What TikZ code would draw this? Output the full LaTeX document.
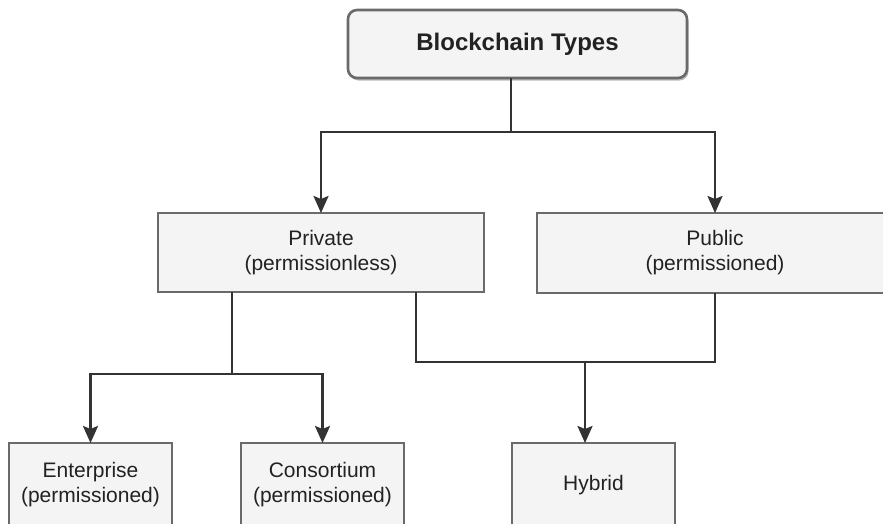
\documentclass[tikz,border=0pt]{standalone}
\usepackage{fontspec}
\setmainfont{Liberation Sans}
\usetikzlibrary{arrows.meta,shadows}
\definecolor{boxfill}{HTML}{F4F4F4}
\definecolor{boxline}{HTML}{6A6A6A}
\definecolor{wire}{HTML}{333333}
\definecolor{ink}{HTML}{222222}
\tikzset{
  typebox/.style={draw=boxline, line width=2.6pt, fill=boxfill, text=ink,
    align=center, inner sep=0pt, outer sep=0pt, font=\fontsize{21}{25}\selectfont},
  rootbox/.style={typebox, rounded corners=9pt,
    font=\fontsize{24}{28}\selectfont\bfseries,
    drop shadow={shadow xshift=1.5pt, shadow yshift=-2.5pt, fill=black!45, opacity=0.6}},
  borderline/.style={draw=boxline, line width=2.6pt},
  wirestyle/.style={draw=wire, line width=2.4pt},
  arrowline/.style={wirestyle, -{Stealth[length=17pt, width=15pt, inset=3pt]}},
}
\begin{document}
\begin{tikzpicture}[x=1pt, y=-1pt]
  \useasboundingbox (0,0) rectangle (883,523);
  \clip (0,0) rectangle (883,523);

  % boxes
  \node[rootbox, minimum width=339pt, minimum height=68pt] (root) at (517.5,44) {Blockchain Types};
  \node[typebox, minimum width=326pt, minimum height=79pt] (priv) at (321,252.5) {Private\\(permissionless)};
  % the public box runs on past the right margin, so its border is left open there
  \node[typebox, draw=none, fill=none, minimum width=356pt, minimum height=80pt] (pub) at (715,253) {};
  \fill[boxfill] (pub.north west) rectangle ([xshift=60pt]pub.south east);
  \draw[borderline] ([xshift=60pt]pub.north east) -- (pub.north west) -- (pub.south west) -- ([xshift=60pt]pub.south east);
  \node[typebox, draw=none, fill=none] (publabel) at (pub.center) {Public\\(permissioned)};
  \node[typebox, minimum width=163pt, minimum height=84pt] (ent) at (90.5,485) {Enterprise\\(permissioned)};
  \node[typebox, minimum width=163pt, minimum height=84pt] (cons) at (322.5,485) {Consortium\\(permissioned)};
  \node[typebox, minimum width=163pt, minimum height=84pt] (hyb) at (593.5,485) {Hybrid};

  % junction points
  \coordinate (jtop) at (511,132);
  \coordinate (jpriv) at (232,374);
  \coordinate (jhyb) at (416,362);
  \coordinate (jdrop) at (585,362);

  % root to the two main types
  \draw[wirestyle] (root.south -| jtop) -- (jtop);
  \draw[arrowline] (jtop) -| (priv.north);
  \draw[arrowline] (jtop) -| (pub.north);

  % private splits into enterprise and consortium
  \draw[wirestyle] (priv.south -| jpriv) -- (jpriv);
  \draw[arrowline] (jpriv) -| (ent.north);
  \draw[arrowline] (jpriv) -| (cons.north);

  % private and public merge into hybrid
  \draw[wirestyle] (priv.south -| jhyb) -- (jhyb) -| (pub.south);
  \draw[arrowline] (jdrop) -- (hyb.north -| jdrop);
\end{tikzpicture}
\end{document}
